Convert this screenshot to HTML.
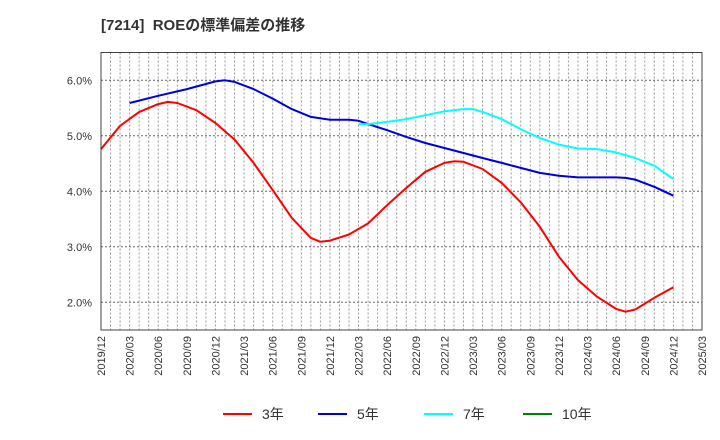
<!DOCTYPE html>
<html><head><meta charset="utf-8"><style>
body{margin:0;background:#fff;}
svg{display:block;font-family:"Liberation Sans","Noto Sans CJK JP",sans-serif;}
</style></head><body>
<svg id="chart" width="720" height="440" viewBox="0 0 720 440">
<text x="101" y="30" font-size="15" font-weight="bold" fill="#333" style="white-space:pre">[7214]  ROEの標準偏差の推移</text>
<g id="grid"></g>
<g id="series"></g>
<rect x="101" y="52.5" width="601" height="277.5" fill="none" stroke="#444" stroke-width="1"/>
<g id="yticks"></g>
<g id="xticks"></g>
<g id="legend"></g>
</svg>
<script>
const xLabels=["2019/12","2020/03","2020/06","2020/09","2020/12","2021/03","2021/06","2021/09","2021/12","2022/03","2022/06","2022/09","2022/12","2023/03","2023/06","2023/09","2023/12","2024/03","2024/06","2024/09","2024/12","2025/03"];
const yTicks=[2,3,4,5,6];
// [monthIndex from 2019/12, value %]
const red3=[[0,4.76],[2,5.18],[4,5.43],[6,5.57],[7,5.61],[8,5.59],[10,5.46],[12,5.23],[14,4.93],[16,4.51],[18,4.02],[20,3.52],[22,3.16],[23,3.09],[24,3.11],[26,3.22],[28,3.42],[30,3.75],[32,4.06],[34,4.35],[36,4.51],[37,4.54],[38,4.53],[40,4.40],[42,4.15],[44,3.80],[46,3.36],[48,2.82],[50,2.40],[52,2.10],[54,1.88],[55,1.83],[56,1.87],[58,2.08],[60,2.27]];
const blue5=[[3,5.59],[6,5.72],[9,5.84],[12,5.98],[13,6.0],[14,5.97],[16,5.84],[18,5.67],[20,5.48],[22,5.34],[24,5.29],[26,5.29],[27,5.27],[28,5.21],[30,5.10],[32,4.98],[34,4.87],[36,4.78],[38,4.69],[40,4.60],[42,4.51],[44,4.42],[46,4.33],[48,4.28],[50,4.25],[52,4.25],[54,4.25],[55,4.24],[56,4.21],[58,4.08],[60,3.92]];
const cyan7=[[27,5.21],[28,5.21],[30,5.25],[32,5.30],[34,5.37],[36,5.44],[38,5.48],[39,5.48],[40,5.43],[42,5.30],[44,5.12],[46,4.96],[48,4.84],[50,4.77],[52,4.76],[54,4.70],[56,4.60],[58,4.46],[60,4.22]];
const green10=[];
const legendLabels=["3年","5年","7年","10年"];
const legendColors=["#ff0000","#0000dd","#00ffff","#008000"];

const X0=101,X1=702,NM=63,Y0=52.5,Y1=330,VMAX=6.5,VMIN=1.5;
const xs=m=>X0+(X1-X0)*m/NM;
const ys=v=>Y0+(Y1-Y0)*(VMAX-v)/(VMAX-VMIN);
const NS="http://www.w3.org/2000/svg";
function mk(t,p,a){const e=document.createElementNS(NS,t);for(const k in a)e.setAttribute(k,a[k]);p.appendChild(e);return e;}
const grid=document.getElementById('grid');
for(let m=1;m<NM;m++){const l=mk('line',grid,{x1:xs(m),x2:xs(m),y1:Y0,y2:Y1,stroke:'#999','stroke-dasharray':'2,2','stroke-width':1});

}
yTicks.forEach(v=>{const l=mk('line',grid,{x1:X0,x2:X1,y1:ys(v),y2:ys(v),stroke:'#666','stroke-dasharray':'2,2','stroke-width':1});

});
const yt=document.getElementById('yticks');
yTicks.forEach(v=>{const t=mk('text',yt,{x:92,y:ys(v)+4,'text-anchor':'end','font-size':11,fill:'#333'});t.textContent=v.toFixed(1)+'%';

});
const xt=document.getElementById('xticks');
xLabels.forEach((s,i)=>{const x=xs(i*3)+4;const t=mk('text',xt,{x:x,y:336,'text-anchor':'end','font-size':11,fill:'#333',transform:`rotate(-90 ${x} 336)`});t.textContent=s;

});
const sg=document.getElementById('series');
[[red3,legendColors[0],'line-3yr'],[blue5,legendColors[1],'line-5yr'],[cyan7,legendColors[2],'line-7yr'],[green10,legendColors[3],'line-10yr']].forEach(([d,c,n])=>{
if(!d.length)return;
const p=mk('polyline',sg,{points:d.map(q=>xs(q[0]).toFixed(1)+','+ys(q[1]).toFixed(1)).join(' '),fill:'none',stroke:c,'stroke-width':2,'stroke-linejoin':'round'});

});
const lg=document.getElementById('legend');
const lx=[223,318,424,523];
legendLabels.forEach((s,i)=>{
const l=mk('line',lg,{x1:lx[i],x2:lx[i]+29,y1:414,y2:414,stroke:legendColors[i],'stroke-width':2});


const t=mk('text',lg,{x:lx[i]+39,y:419,'font-size':14,fill:'#333'});t.textContent=s;

});
</script>
</body></html>
